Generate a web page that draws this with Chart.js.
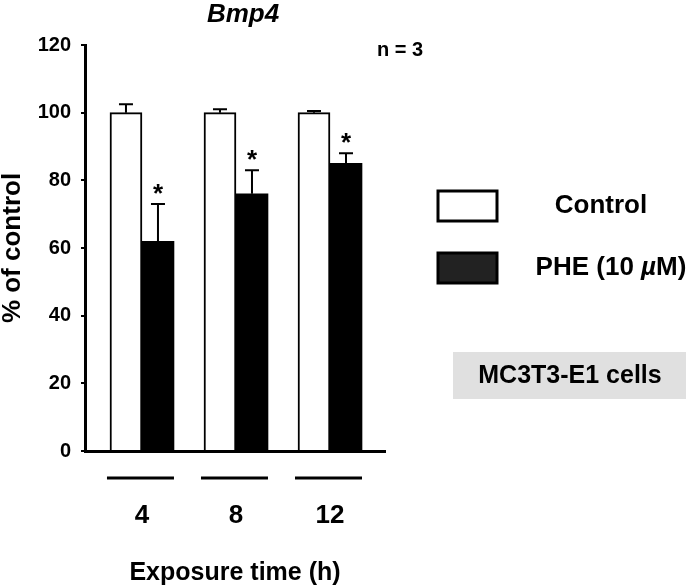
<!DOCTYPE html>
<html>
<head>
<meta charset="utf-8">
<script src="https://cdn.jsdelivr.net/npm/chart.js@4.4.0/dist/chart.umd.min.js"></script>
<style>
  html, body { margin: 0; padding: 0; background: #fff; }
  canvas { display: block; }
</style>
</head>
<body>
<canvas id="chart" width="693" height="588"></canvas>
<script>
Chart.defaults.font.family = "'Liberation Sans', Arial, Helvetica, sans-serif";
Chart.defaults.font.weight = 'bold';
Chart.defaults.color = '#000';

// data
const timeLabels = ['4', '8', '12'];
const groupPos = [0, 1, 2];
const controlValues = [100, 100, 100];
const controlErr = [2.5, 1, 0.5];
const pheValues = [62, 76, 85];
const pheErr = [11, 7, 3];
const pheSignificant = [true, true, true];
const seriesLabels = ['Control', 'PHE (10 µM)'];

const FONT = "'Liberation Sans', Arial, Helvetica, sans-serif";

const drawMixed = function drawMixed(ctx, text, cx, cy, size) {
  // µ is drawn in italic, the rest upright
  const parts = text.split('µ');
  const pieces = [];
  parts.forEach((p, i) => {
    if (p) pieces.push({ t: p, f: 'bold ' + size + 'px ' + FONT });
    if (i < parts.length - 1) pieces.push({ t: 'µ', f: 'italic bold ' + size + 'px ' + FONT });
  });
  let total = 0;
  pieces.forEach(p => { ctx.font = p.f; p.w = ctx.measureText(p.t).width; total += p.w; });
  let x = cx - total / 2;
  ctx.textAlign = 'left';
  ctx.textBaseline = 'middle';
  pieces.forEach(p => { ctx.font = p.f; ctx.fillText(p.t, x, cy); x += p.w; });
};

const extras = {
  id: 'extras',
  afterDatasetsDraw(chart) {
    const ctx = chart.ctx;
    const yScale = chart.scales.y;
    const errs = [controlErr, pheErr];
    ctx.save();
    ctx.strokeStyle = '#000';
    ctx.fillStyle = '#000';
    chart.data.datasets.forEach((ds, di) => {
      chart.getDatasetMeta(di).data.forEach((bar, i) => {
        const top = yScale.getPixelForValue(ds.data[i].y + errs[di][i]);
        ctx.lineWidth = 2;
        ctx.beginPath();
        ctx.moveTo(bar.x, bar.y);
        ctx.lineTo(bar.x, top);
        ctx.moveTo(bar.x - 7, top);
        ctx.lineTo(bar.x + 7, top);
        ctx.stroke();
        if (di === 1 && pheSignificant[i]) {
          ctx.font = 'bold 26px ' + FONT;
          ctx.textAlign = 'center';
          ctx.textBaseline = 'alphabetic';
          ctx.fillText('*', bar.x, top - 16 + 14);
        }
      });
    });
    ctx.restore();
  },
  afterDraw(chart) {
    const ctx = chart.ctx;
    const xScale = chart.scales.x;
    ctx.save();
    ctx.fillStyle = '#000';
    ctx.strokeStyle = '#000';

    // lines under each time group
    ctx.lineWidth = 3;
    groupPos.forEach(v => {
      const px = xScale.getPixelForValue(v);
      ctx.beginPath();
      ctx.moveTo(px - 35, 478);
      ctx.lineTo(px + 32, 478);
      ctx.stroke();
    });

    // title and n
    ctx.font = 'italic bold 26px ' + FONT;
    ctx.textAlign = 'center';
    ctx.textBaseline = 'alphabetic';
    ctx.fillText('Bmp4', 243, 22);
    ctx.font = 'bold 20px ' + FONT;
    ctx.textAlign = 'left';
    ctx.textBaseline = 'middle';
    ctx.fillText('n = 3', 377, 50);

    // legend
    const boxFill = ['#ffffff', '#222222'];
    const textX = [601, 611];
    chart.data.datasets.forEach((ds, i) => {
      const by = 191 + i * 62;
      ctx.fillStyle = boxFill[i];
      ctx.fillRect(438, by, 59, 30);
      ctx.lineWidth = 3;
      ctx.strokeStyle = '#000';
      ctx.strokeRect(438, by, 59, 30);
      ctx.fillStyle = '#000';
      drawMixed(ctx, ds.label, textX[i], by + 15, 26);
    });

    // cell line tag
    ctx.fillStyle = '#e0e0e0';
    ctx.fillRect(453, 352, 233, 47);
    ctx.fillStyle = '#000';
    ctx.font = 'bold 25px ' + FONT;
    ctx.textAlign = 'center';
    ctx.textBaseline = 'middle';
    ctx.fillText('MC3T3-E1 cells', 570, 376);
    ctx.restore();
  }
};

new Chart(document.getElementById('chart'), {
  type: 'bar',
  plugins: [extras],
  data: {
    datasets: [{
      label: seriesLabels[0],
      data: groupPos.map((x, i) => ({ x: x, y: controlValues[i] })),
      backgroundColor: '#ffffff',
      borderColor: '#000000',
      borderWidth: 2,
      barThickness: 32
    }, {
      label: seriesLabels[1],
      data: groupPos.map((x, i) => ({ x: x, y: pheValues[i] })),
      backgroundColor: '#000000',
      borderColor: '#000000',
      borderWidth: 0,
      barThickness: 32
    }]
  },
  options: {
    responsive: false,
    animation: false,
    layout: {
      padding: { top: 45, right: 308, left: 0, bottom: 0 }
    },
    plugins: {
      legend: { display: false },
      tooltip: { enabled: false },
      title: { display: false }
    },
    scales: {
      x: {
        type: 'linear',
        min: -0.606,
        max: 2.585,
        offset: false,
        grid: { display: false, drawTicks: false },
        border: { display: true, color: '#000', width: 3 },
        afterBuildTicks: scale => {
          scale.ticks = groupPos.map(v => ({ value: v }));
        },
        afterFit: scale => { scale.height = 137; },
        ticks: {
          font: { size: 26, weight: 'bold' },
          color: '#000',
          padding: 49,
          maxRotation: 0,
          autoSkip: false,
          callback: value => timeLabels[groupPos.indexOf(value)] || ''
        },
        title: {
          display: true,
          text: 'Exposure time (h)',
          color: '#000',
          font: { size: 25, weight: 'bold' },
          padding: 0
        }
      },
      y: {
        min: 0,
        max: 120,
        grid: {
          drawOnChartArea: false,
          drawTicks: true,
          tickLength: 4,
          color: '#000',
          lineWidth: 2
        },
        border: { display: true, color: '#000', width: 3 },
        afterFit: scale => { scale.width = 85; },
        ticks: {
          stepSize: 20,
          font: { size: 20, weight: 'bold' },
          color: '#000',
          padding: 10
        },
        title: {
          display: true,
          text: '% of control',
          color: '#000',
          font: { size: 26, weight: 'bold', lineHeight: 1.0 },
          padding: 0
        }
      }
    }
  }
});
</script>
</body>
</html>
